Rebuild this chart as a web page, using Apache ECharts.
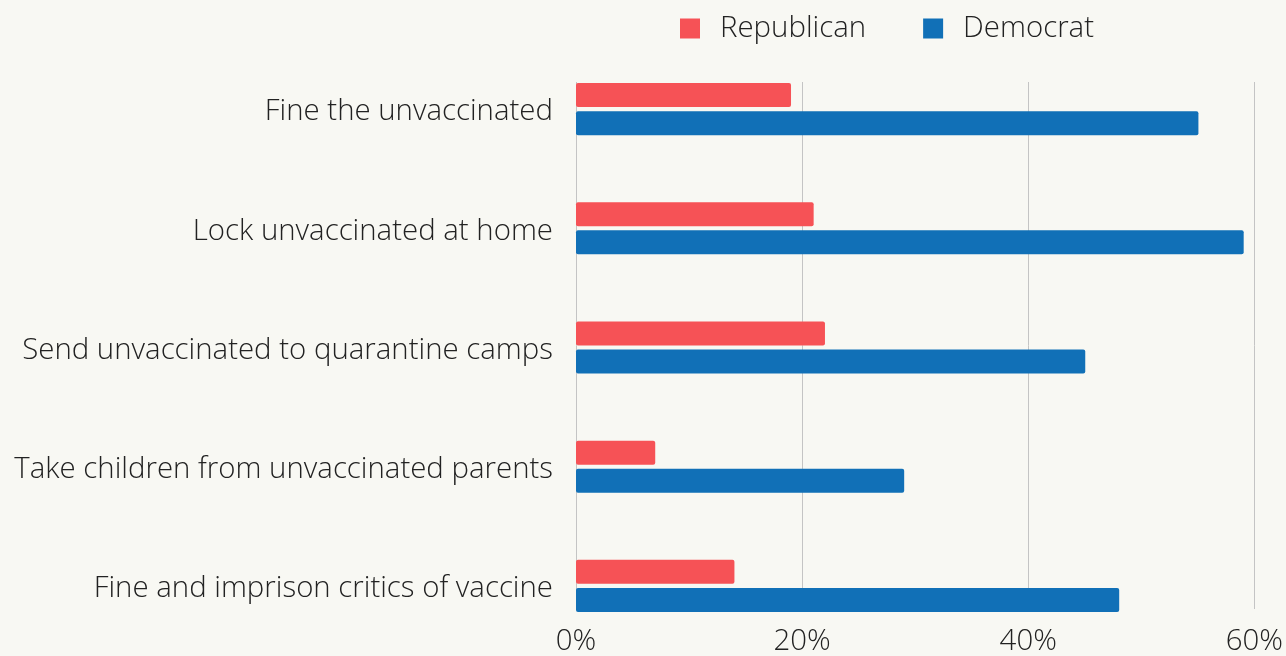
<!DOCTYPE html>
<html><head><meta charset="utf-8">
<script src="https://cdn.jsdelivr.net/npm/echarts@6/dist/echarts.min.js"></script>
<style>html,body{margin:0;padding:0;background:#f8f8f3;}#c{width:1286px;height:656px;}</style>
</head><body><div id="c"></div>
<script>
const categories = ["Fine the unvaccinated","Lock unvaccinated at home","Send unvaccinated to quarantine camps","Take children from unvaccinated parents","Fine and imprison critics of vaccine"];
const republican = [19, 21, 22, 7, 14];
const democrat = [55, 59, 45, 29, 48];
const xTicks = [0, 20, 40, 60];

const FONT = "'Open Sans', sans-serif";
const FS = 29.4;
const chart = echarts.init(document.getElementById('c'));
chart.setOption({
  backgroundColor: '#f8f8f3',
  animation: false,
  legend: {
    left: 680, top: 14, padding: 0,
    itemWidth: 20, itemHeight: 20, itemGap: 57,
    icon: 'rect',
    textStyle: { fontFamily: FONT, fontSize: FS, fontWeight: 300, color: '#222', padding: [0,0,0,15] },
    data: ['Republican','Democrat']
  },
  grid: [
    { left: 576, right: 31, top: 49.5, bottom: 10.5 },
    { left: 576, right: 31, top: 82, bottom: 45 }
  ],
  xAxis: [
    { gridIndex: 0, type: 'value', min: 0, max: 60, interval: 20, show: false },
    { gridIndex: 1, type: 'value', min: xTicks[0], max: xTicks[xTicks.length-1], interval: 20,
      axisLine: { show: false }, axisTick: { show: false },
      splitLine: { show: true, lineStyle: { color: '#c4c4c4', width: 1 } },
      axisLabel: { formatter: v => v + '%', fontFamily: FONT, fontSize: FS, fontWeight: 300, color: '#222', margin: 18 } }
  ],
  yAxis: [
    { gridIndex: 0, type: 'category', inverse: true, data: categories,
      axisLine: { show: false }, axisTick: { show: false },
      axisLabel: { margin: 23, formatter: v => '{a|' + v + '}',
        rich: { a: { fontFamily: FONT, fontSize: FS, fontWeight: 300, color: '#222', padding: [6,0,0,0] } } } },
    { gridIndex: 1, type: 'value', min: 0, max: 1, show: false }
  ],
  series: [
    { name: 'Republican', type: 'bar', xAxisIndex: 0, yAxisIndex: 0, data: republican,
      barWidth: 24, barGap: '17%', itemStyle: { color: '#f65256', borderRadius: 2 }, z: 3 },
    { name: 'Democrat', type: 'bar', xAxisIndex: 0, yAxisIndex: 0, data: democrat,
      barWidth: 24, barGap: '17%', itemStyle: { color: '#1170b7', borderRadius: 2 }, z: 3 }
  ]
});
</script></body></html>
